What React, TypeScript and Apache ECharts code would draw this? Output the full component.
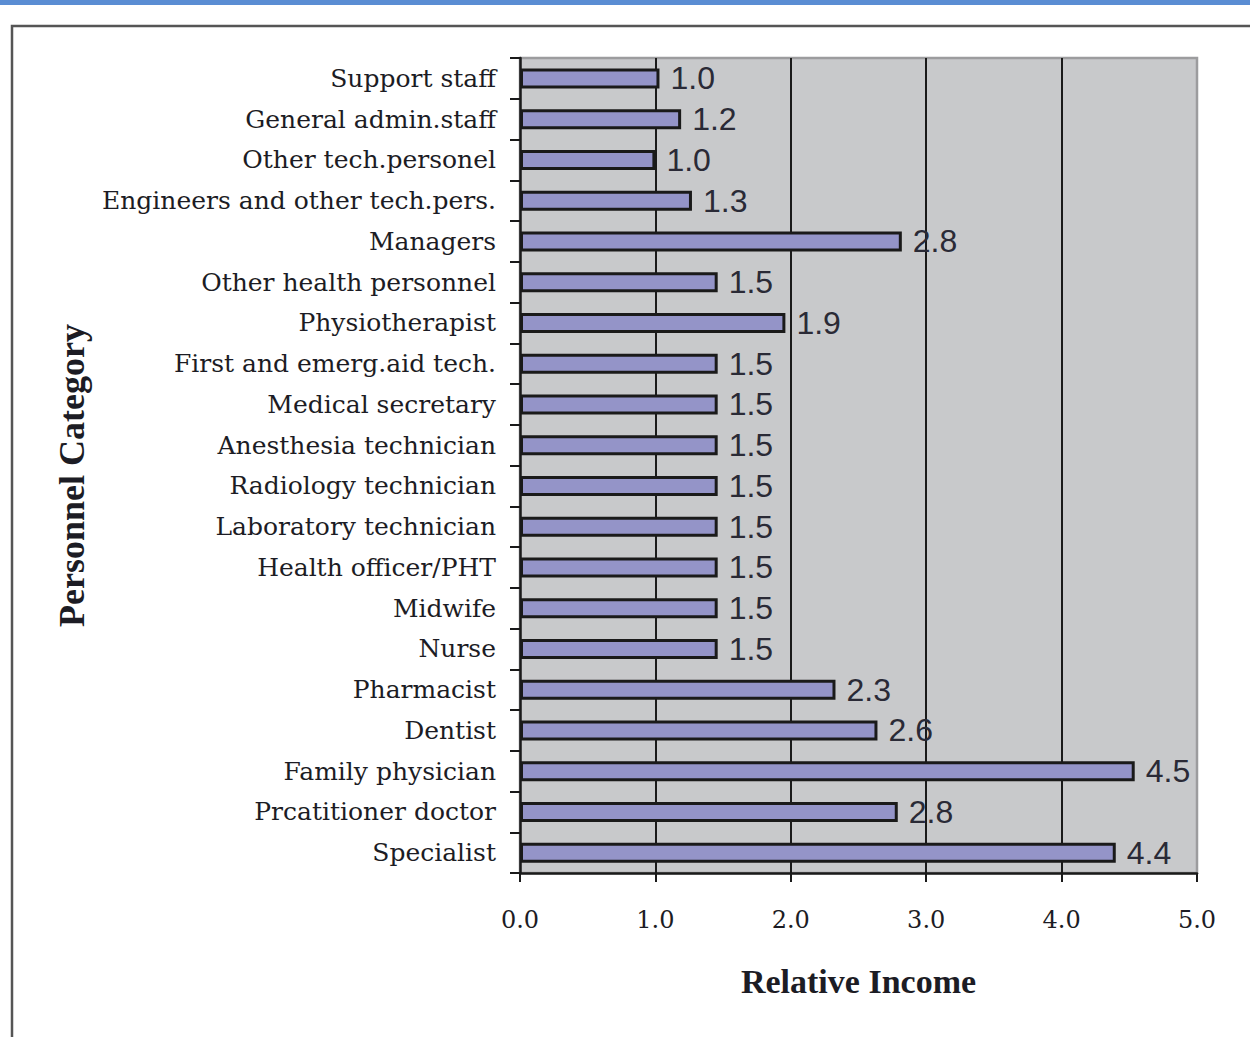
import React, { useEffect, useRef } from "react";
import * as echarts from "echarts";

const categories = [
  "Support staff",
  "General admin.staff",
  "Other tech.personel",
  "Engineers and other tech.pers.",
  "Managers",
  "Other health personnel",
  "Physiotherapist",
  "First and emerg.aid tech.",
  "Medical secretary",
  "Anesthesia technician",
  "Radiology technician",
  "Laboratory technician",
  "Health officer/PHT",
  "Midwife",
  "Nurse",
  "Pharmacist",
  "Dentist",
  "Family physician",
  "Prcatitioner doctor",
  "Specialist",
];

// bar lengths
const incomeValues = [
  1.03, 1.19, 1.0, 1.27, 2.82, 1.46, 1.96, 1.46, 1.46, 1.46, 1.46, 1.46, 1.46,
  1.46, 1.46, 2.33, 2.64, 4.54, 2.79, 4.4,
];

// printed value labels
const incomeLabels = [
  "1.0", "1.2", "1.0", "1.3", "2.8", "1.5", "1.9", "1.5", "1.5", "1.5", "1.5",
  "1.5", "1.5", "1.5", "1.5", "2.3", "2.6", "4.5", "2.8", "4.4",
];

const xTicks = { min: 0, max: 5, interval: 1 };

export default function App() {
  const ref = useRef<HTMLDivElement>(null);

  useEffect(() => {
    if (!ref.current) return;
    const chart = echarts.init(ref.current, null, { renderer: "svg" });
    chart.setOption({
      animation: false,
      backgroundColor: "#ffffff",
      graphic: [
        {
          type: "rect",
          shape: { x: 0, y: 0, width: 1250, height: 5 },
          style: { fill: "#5a8dd3" },
          silent: true,
        },
        {
          type: "rect",
          shape: { x: 12, y: 26, width: 1400, height: 1200 },
          style: { fill: "none", stroke: "#555555", lineWidth: 2.5 },
          silent: true,
          z: -1,
        },
      ],
      grid: {
        left: 520,
        right: 53,
        top: 58,
        bottom: 164,
        show: true,
        backgroundColor: "#c8c9cb",
        borderColor: "#9c9c9e",
        borderWidth: 2.5,
      },
      xAxis: {
        type: "value",
        min: xTicks.min,
        max: xTicks.max,
        interval: xTicks.interval,
        name: "Relative Income",
        nameLocation: "middle",
        nameGap: 91,
        nameTextStyle: {
          fontFamily: "Liberation Serif",
          fontWeight: "bold",
          fontSize: 34,
          color: "#1c1c24",
        },
        axisLine: { show: true, lineStyle: { color: "#1a1a1a", width: 2.5 } },
        axisTick: {
          show: true,
          length: 9,
          lineStyle: { color: "#1a1a1a", width: 2 },
        },
        axisLabel: {
          margin: 35,
          fontFamily: "DejaVu Serif",
          fontSize: 24,
          color: "#1c1c24",
          formatter: (v: number) => v.toFixed(1),
        },
        splitLine: {
          show: true,
          showMinLine: false,
          showMaxLine: false,
          lineStyle: { color: "#1a1a1a", width: 2 },
        },
      },
      yAxis: {
        type: "category",
        data: categories,
        inverse: true,
        name: "Personnel Category",
        nameLocation: "middle",
        nameRotate: 90,
        nameGap: 430,
        nameTextStyle: {
          fontFamily: "Liberation Serif",
          fontWeight: "bold",
          fontSize: 36,
          color: "#1c1c24",
          padding: [0, 20, 0, 0],
        },
        axisLine: { show: true, lineStyle: { color: "#1a1a1a", width: 2.5 } },
        axisTick: {
          show: true,
          length: 10,
          lineStyle: { color: "#1a1a1a", width: 2 },
        },
        axisLabel: {
          margin: 24,
          fontFamily: "DejaVu Serif",
          fontSize: 25,
          color: "#1c1c24",
        },
        splitLine: { show: false },
      },
      series: [
        {
          type: "bar",
          data: incomeValues,
          barWidth: 20,
          itemStyle: {
            color: "#9494c8",
            borderColor: "#1a1a1a",
            borderWidth: 3,
          },
          label: {
            show: true,
            position: "right",
            distance: 11,
            fontFamily: "Liberation Sans",
            fontSize: 32,
            color: "#2a2a36",
            formatter: (p: any) => incomeLabels[p.dataIndex],
          },
        },
      ],
    });
    return () => chart.dispose();
  }, []);

  return (
    <div
      ref={ref}
      style={{ position: "absolute", left: 0, top: 0, width: 1250, height: 1037 }}
    />
  );
}
